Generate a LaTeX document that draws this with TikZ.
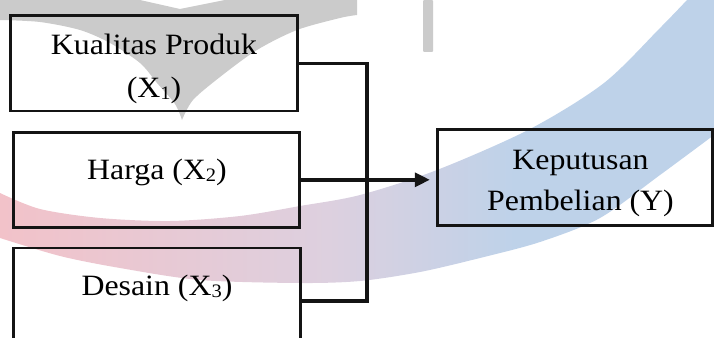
\documentclass[tikz,border=0pt]{standalone}
\usepackage{fontspec}
\setmainfont{Liberation Serif}[FakeStretch=1.08]
\usetikzlibrary{arrows.meta}
\definecolor{wmgray}{RGB}{203,203,203}
\definecolor{wmpink}{RGB}{242,194,201}
\definecolor{wmmid}{RGB}{221,208,223}
\definecolor{wmblue}{RGB}{190,210,233}
\definecolor{ink}{RGB}{20,20,20}
\pgfdeclarehorizontalshading{wmshade}{100bp}{color(0bp)=(wmpink); color(25bp)=(wmpink); color(48bp)=(wmmid); color(61bp)=(wmblue); color(100bp)=(wmblue)}
\newcommand\lowsub[1]{\raisebox{-2pt}{\fontsize{19}{19}\selectfont #1}}
\begin{document}
\begin{tikzpicture}[x=1pt,y=-1pt,
  box/.style={draw=ink, line width=2.8pt, inner sep=0pt, fill=none},
  lbl/.style={anchor=base, inner sep=0pt, text=black, font=\fontsize{29.5}{35}\selectfont},
  conn/.style={draw=ink, line width=3.4pt}]
\useasboundingbox (0,0) rectangle (714,337);
\clip (0,0) rectangle (714,337);
% watermark
\fill[wmgray] (0,0) -- (140,0) -- (180,9) -- (225,0) -- (357,0) -- (357,15)
  -- plot[smooth] coordinates {(357,15) (340,18) (297,30) (257,50) (220,77) (193,100) (182,120)}
  -- plot[smooth] coordinates {(182,120) (175,104) (157,83) (140,63) (110,43) (80,30) (40,22) (0,20)} -- cycle;
\fill[wmgray, rounded corners=1pt] (423,0) rectangle (433,52);
\shade[shading=wmshade]
  plot[smooth] coordinates {(0,193) (40,209) (100,218) (170,221) (240,216) (300,206) (360,195) (437,170) (530,129) (604,83) (660,28) (687,0)}
  -- (714,0) -- (714,135)
  -- plot[smooth] coordinates {(714,135) (660,175) (600,218) (540,242) (480,258) (420,272) (360,281) (300,283) (200,280) (120,268) (60,256) (0,238)} -- cycle;
% boxes
\node[box, minimum width=287pt, minimum height=95pt] (b1) at (154.2,63.4) {};
\node[box, minimum width=286pt, minimum height=95pt] (b2) at (156.8,179.8) {};
\node[box, minimum width=287pt, minimum height=95pt] (b3) at (157.3,295.5) {};
\node[box, minimum width=275pt, minimum height=96.5pt] (rb) at (574.7,177.5) {};
% texts
\node[lbl] (t1a) at (154,55) {Kualitas Produk};
\node[lbl] (t1b) at (154,97) {(X\lowsub{1})};
\node[lbl] (t2) at (157,179) {Harga (X\lowsub{2})};
\node[lbl] (t3) at (157,295.3) {Desain (X\lowsub{3})};
\node[lbl] (t4a) at (580.5,169.5) {Keputusan};
\node[lbl] (t4b) at (580.5,210) {Pembelian (Y)};
% connectors
\coordinate (j3) at (367,301);
\draw[conn] (b1.east) -| (j3) -- (b3.east |- j3);
\draw[conn, -{Triangle[length=15pt,width=14pt]}] (b2.east) -- ([xshift=-6pt]rb.west |- b2.east);
\end{tikzpicture}
\end{document}
